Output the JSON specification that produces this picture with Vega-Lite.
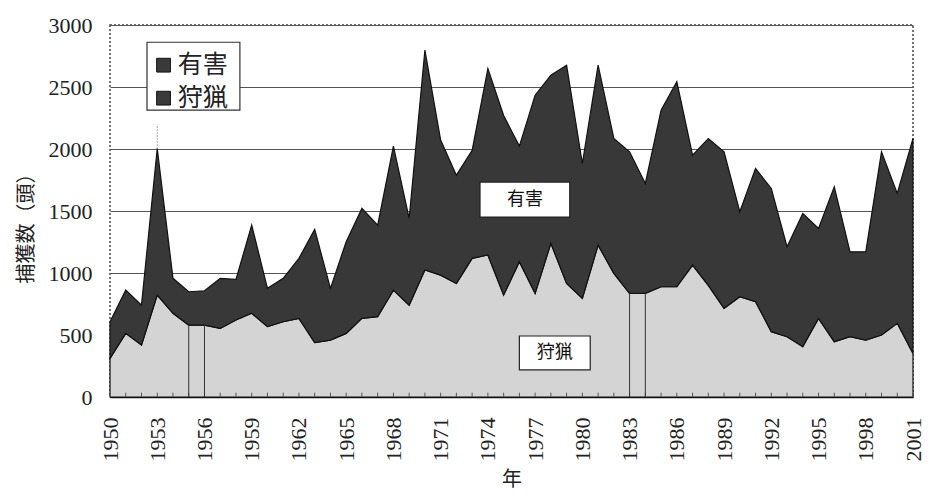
{
  "$schema": "https://vega.github.io/schema/vega-lite/v6.json",
  "width": 803,
  "height": 372,
  "autosize": "none",
  "padding": {"left": 110, "top": 25, "right": 24, "bottom": 103},
  "background": "white",
  "config": {
    "view": {"stroke": "#444", "strokeDash": [2, 2], "strokeWidth": 1.5},
    "font": "Liberation Serif"
  },
  "datasets": {
    "catch": [
      {"year": 1950, "type": "狩猟", "value": 312}, {"year": 1950, "type": "有害", "value": 295},
      {"year": 1951, "type": "狩猟", "value": 513}, {"year": 1951, "type": "有害", "value": 349},
      {"year": 1952, "type": "狩猟", "value": 419}, {"year": 1952, "type": "有害", "value": 322},
      {"year": 1953, "type": "狩猟", "value": 822}, {"year": 1953, "type": "有害", "value": 1182},
      {"year": 1954, "type": "狩猟", "value": 675}, {"year": 1954, "type": "有害", "value": 282},
      {"year": 1955, "type": "狩猟", "value": 580}, {"year": 1955, "type": "有害", "value": 269},
      {"year": 1956, "type": "狩猟", "value": 580}, {"year": 1956, "type": "有害", "value": 277},
      {"year": 1957, "type": "狩猟", "value": 553}, {"year": 1957, "type": "有害", "value": 404},
      {"year": 1958, "type": "狩猟", "value": 621}, {"year": 1958, "type": "有害", "value": 327},
      {"year": 1959, "type": "狩猟", "value": 675}, {"year": 1959, "type": "有害", "value": 711},
      {"year": 1960, "type": "狩猟", "value": 567}, {"year": 1960, "type": "有害", "value": 309},
      {"year": 1961, "type": "狩猟", "value": 607}, {"year": 1961, "type": "有害", "value": 350},
      {"year": 1962, "type": "狩猟", "value": 634}, {"year": 1962, "type": "有害", "value": 484},
      {"year": 1963, "type": "狩猟", "value": 438}, {"year": 1963, "type": "有害", "value": 914},
      {"year": 1964, "type": "狩猟", "value": 459}, {"year": 1964, "type": "有害", "value": 417},
      {"year": 1965, "type": "狩猟", "value": 513}, {"year": 1965, "type": "有害", "value": 739},
      {"year": 1966, "type": "狩猟", "value": 634}, {"year": 1966, "type": "有害", "value": 887},
      {"year": 1967, "type": "狩猟", "value": 648}, {"year": 1967, "type": "有害", "value": 738},
      {"year": 1968, "type": "狩猟", "value": 862}, {"year": 1968, "type": "有害", "value": 1161},
      {"year": 1969, "type": "狩猟", "value": 741}, {"year": 1969, "type": "有害", "value": 699},
      {"year": 1970, "type": "狩猟", "value": 1024}, {"year": 1970, "type": "有害", "value": 1773},
      {"year": 1971, "type": "狩猟", "value": 983}, {"year": 1971, "type": "有害", "value": 1089},
      {"year": 1972, "type": "狩猟", "value": 916}, {"year": 1972, "type": "有害", "value": 873},
      {"year": 1973, "type": "狩猟", "value": 1118}, {"year": 1973, "type": "有害", "value": 872},
      {"year": 1974, "type": "狩猟", "value": 1145}, {"year": 1974, "type": "有害", "value": 1504},
      {"year": 1975, "type": "狩猟", "value": 822}, {"year": 1975, "type": "有害", "value": 1448},
      {"year": 1976, "type": "狩猟", "value": 1091}, {"year": 1976, "type": "有害", "value": 932},
      {"year": 1977, "type": "狩猟", "value": 836}, {"year": 1977, "type": "有害", "value": 1598},
      {"year": 1978, "type": "狩猟", "value": 1239}, {"year": 1978, "type": "有害", "value": 1356},
      {"year": 1979, "type": "狩猟", "value": 916}, {"year": 1979, "type": "有害", "value": 1760},
      {"year": 1980, "type": "狩猟", "value": 795}, {"year": 1980, "type": "有害", "value": 1088},
      {"year": 1981, "type": "狩猟", "value": 1225}, {"year": 1981, "type": "有害", "value": 1451},
      {"year": 1982, "type": "狩猟", "value": 997}, {"year": 1982, "type": "有害", "value": 1088},
      {"year": 1983, "type": "狩猟", "value": 836}, {"year": 1983, "type": "有害", "value": 1141},
      {"year": 1984, "type": "狩猟", "value": 836}, {"year": 1984, "type": "有害", "value": 886},
      {"year": 1985, "type": "狩猟", "value": 889}, {"year": 1985, "type": "有害", "value": 1424},
      {"year": 1986, "type": "狩猟", "value": 889}, {"year": 1986, "type": "有害", "value": 1653},
      {"year": 1987, "type": "狩猟", "value": 1064}, {"year": 1987, "type": "有害", "value": 886},
      {"year": 1988, "type": "狩猟", "value": 900}, {"year": 1988, "type": "有害", "value": 1185},
      {"year": 1989, "type": "狩猟", "value": 715}, {"year": 1989, "type": "有害", "value": 1262},
      {"year": 1990, "type": "狩猟", "value": 809}, {"year": 1990, "type": "有害", "value": 685},
      {"year": 1991, "type": "狩猟", "value": 768}, {"year": 1991, "type": "有害", "value": 1075},
      {"year": 1992, "type": "狩猟", "value": 527}, {"year": 1992, "type": "有害", "value": 1155},
      {"year": 1993, "type": "狩猟", "value": 486}, {"year": 1993, "type": "有害", "value": 726},
      {"year": 1994, "type": "狩猟", "value": 406}, {"year": 1994, "type": "有害", "value": 1074},
      {"year": 1995, "type": "狩猟", "value": 634}, {"year": 1995, "type": "有害", "value": 725},
      {"year": 1996, "type": "狩猟", "value": 446}, {"year": 1996, "type": "有害", "value": 1249},
      {"year": 1997, "type": "狩猟", "value": 486}, {"year": 1997, "type": "有害", "value": 685},
      {"year": 1998, "type": "狩猟", "value": 459}, {"year": 1998, "type": "有害", "value": 712},
      {"year": 1999, "type": "狩猟", "value": 500}, {"year": 1999, "type": "有害", "value": 1477},
      {"year": 2000, "type": "狩猟", "value": 594}, {"year": 2000, "type": "有害", "value": 1048},
      {"year": 2001, "type": "狩猟", "value": 352}, {"year": 2001, "type": "有害", "value": 1733}
    ],
    "rules": [
      {"year": 1955, "from": 0, "to": 580},
      {"year": 1956, "from": 0, "to": 580},
      {"year": 1983, "from": 0, "to": 836},
      {"year": 1984, "from": 0, "to": 836}
    ],
    "dotted": [
      {"year": 1953, "from": 2004, "to": 2200}
    ],
    "boxes": [
      {"label": "有害", "x1": 1973.5, "x2": 1979.2, "y1": 1451, "y2": 1733, "cx": 1976.35, "cy": 1592},
      {"label": "狩猟", "x1": 1976.0, "x2": 1980.5, "y1": 218, "y2": 492, "cx": 1978.25, "cy": 355}
    ],
    "legendBox": [
      {"x1": 1952.35, "x2": 1958.25, "y1": 2313, "y2": 2861}
    ],
    "legendItems": [
      {"label": "有害", "sx": 1953.4, "tx": 1954.3, "y": 2676},
      {"label": "狩猟", "sx": 1953.4, "tx": 1954.3, "y": 2410}
    ]
  },
  "layer": [
    {
      "data": {"name": "catch"},
      "mark": {"type": "area", "stroke": "#111", "strokeWidth": 1.2, "interpolate": "linear"},
      "encoding": {
        "x": {
          "field": "year", "type": "quantitative",
          "scale": {"domain": [1950, 2001], "nice": false, "zero": false},
          "axis": {
            "title": "年",
            "titleFont": "Noto Sans CJK JP", "titleFontSize": 20, "titleFontWeight": "normal", "titleColor": "#222", "titlePadding": 8,
            "values": [1950, 1953, 1956, 1959, 1962, 1965, 1968, 1971, 1974, 1977, 1980, 1983, 1986, 1989, 1992, 1995, 1998, 2001],
            "format": "d",
            "labelAngle": 270, "labelFontSize": 22, "labelFont": "Liberation Serif", "labelColor": "#222", "labelPadding": 20,
            "labelOverlap": false, "labelBound": false, "labelFlush": false,
            "grid": false, "ticks": false, "domainColor": "#111", "domainWidth": 1.5
          }
        },
        "y": {
          "field": "value", "type": "quantitative", "aggregate": "sum",
          "stack": "zero",
          "scale": {"domain": [0, 3000], "nice": false},
          "axis": {
            "title": "捕獲数（頭）",
            "titleFont": "Noto Sans CJK JP", "titleFontSize": 20, "titleFontWeight": "normal", "titleColor": "#222", "titlePadding": 12, "titleY": 198,
            "values": [0, 500, 1000, 1500, 2000, 2500, 3000],
            "format": "d",
            "labelFontSize": 22, "labelFont": "Liberation Serif", "labelColor": "#222", "labelPadding": 18,
            "domain": false, "ticks": false,
            "grid": true, "gridColor": "#555", "gridWidth": 1
          }
        },
        "color": {
          "field": "type", "type": "nominal",
          "scale": {"domain": ["有害", "狩猟"], "range": ["#383838", "#d4d4d4"]},
          "legend": null
        },
        "order": {"field": "type", "sort": "descending"}
      }
    },
    {
      "data": {"name": "catch"},
      "transform": [{"filter": "datum.type == '狩猟'"}],
      "mark": {"type": "rule", "color": "#555", "strokeWidth": 1},
      "encoding": {
        "x": {"field": "year", "type": "quantitative", "title": "年"},
        "y": {"datum": 0, "type": "quantitative", "title": "捕獲数（頭）"},
        "y2": {"datum": 35}
      }
    },
    {
      "data": {"name": "rules"},
      "mark": {"type": "rule", "color": "#333", "strokeWidth": 1},
      "encoding": {
        "x": {"field": "year", "type": "quantitative", "title": "年"},
        "y": {"field": "from", "type": "quantitative", "title": "捕獲数（頭）"},
        "y2": {"field": "to"}
      }
    },
    {
      "data": {"name": "dotted"},
      "mark": {"type": "rule", "color": "#555", "strokeWidth": 1, "strokeDash": [1, 2]},
      "encoding": {
        "x": {"field": "year", "type": "quantitative", "title": "年"},
        "y": {"field": "from", "type": "quantitative", "title": "捕獲数（頭）"},
        "y2": {"field": "to"}
      }
    },
    {
      "data": {"name": "boxes"},
      "mark": {"type": "rect", "fill": "white", "stroke": "#222", "strokeWidth": 1.2},
      "encoding": {
        "x": {"field": "x1", "type": "quantitative", "title": "年"},
        "x2": {"field": "x2"},
        "y": {"field": "y1", "type": "quantitative", "title": "捕獲数（頭）"},
        "y2": {"field": "y2"}
      }
    },
    {
      "data": {"name": "boxes"},
      "mark": {"type": "text", "font": "Noto Sans CJK JP", "fontSize": 18, "color": "#111", "align": "center", "baseline": "middle"},
      "encoding": {
        "x": {"field": "cx", "type": "quantitative", "title": "年"},
        "y": {"field": "cy", "type": "quantitative", "title": "捕獲数（頭）"},
        "text": {"field": "label"}
      }
    },
    {
      "data": {"name": "legendBox"},
      "mark": {"type": "rect", "fill": "white", "stroke": "#333", "strokeWidth": 1.2},
      "encoding": {
        "x": {"field": "x1", "type": "quantitative", "title": "年"},
        "x2": {"field": "x2"},
        "y": {"field": "y1", "type": "quantitative", "title": "捕獲数（頭）"},
        "y2": {"field": "y2"}
      }
    },
    {
      "data": {"name": "legendItems"},
      "mark": {"type": "square", "size": 190, "filled": true, "color": "#3a3a3a", "stroke": "#111", "strokeWidth": 1, "opacity": 1},
      "encoding": {
        "x": {"field": "sx", "type": "quantitative", "title": "年"},
        "y": {"field": "y", "type": "quantitative", "title": "捕獲数（頭）"}
      }
    },
    {
      "data": {"name": "legendItems"},
      "mark": {"type": "text", "font": "Noto Sans CJK JP", "fontSize": 25, "color": "#222", "align": "left", "baseline": "middle"},
      "encoding": {
        "x": {"field": "tx", "type": "quantitative", "title": "年"},
        "y": {"field": "y", "type": "quantitative", "title": "捕獲数（頭）"},
        "text": {"field": "label"}
      }
    }
  ]
}
